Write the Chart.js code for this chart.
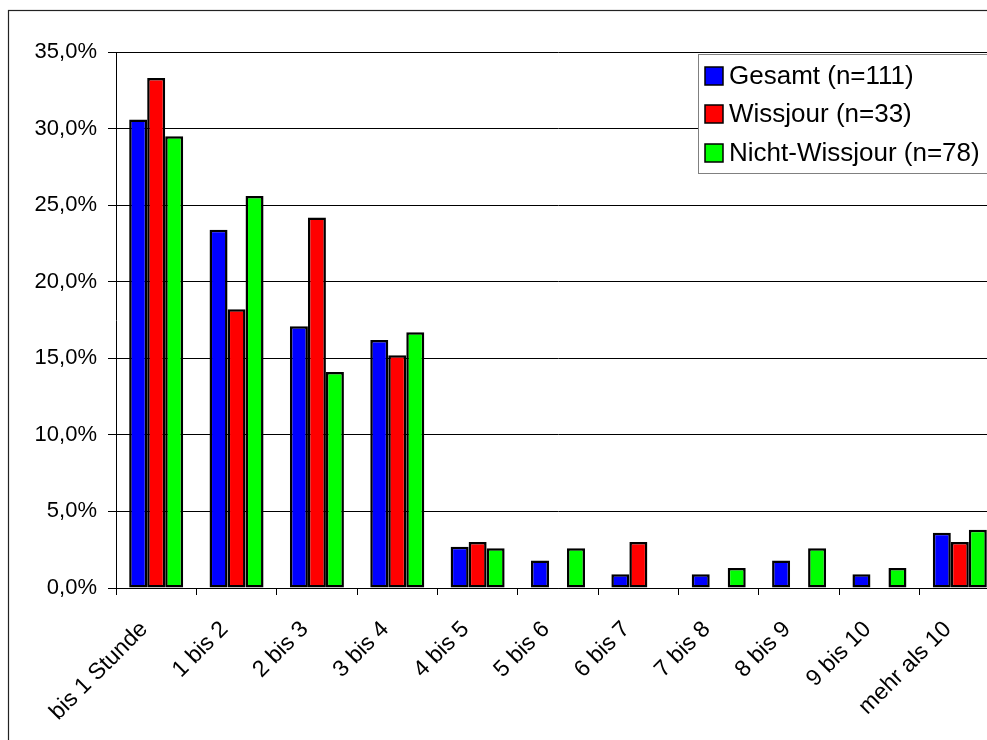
<!DOCTYPE html>
<html>
<head>
<meta charset="utf-8">
<script src="https://cdn.jsdelivr.net/npm/chart.js@4"></script>
<style>
  html, body { margin: 0; padding: 0; background: #fff; overflow: hidden; }
  #wrap { position: absolute; left: 0; top: 0; }
</style>
</head>
<body>
<div id="wrap"><canvas id="chart" width="1010" height="740"></canvas></div>
<script>
// Nutzungsdauer pro Tag, Anteile in Prozent
const categories = ['bis 1 Stunde', '1 bis 2', '2 bis 3', '3 bis 4', '4 bis 5', '5 bis 6',
  '6 bis 7', '7 bis 8', '8 bis 9', '9 bis 10', 'mehr als 10'];
const gesamt = [30.6, 23.4, 17.1, 16.2, 2.7, 1.8, 0.9, 0.9, 1.8, 0.9, 3.6];
const wissjour = [33.3, 18.2, 24.2, 15.2, 3.0, 0, 3.0, 0, 0, 0, 3.0];
const nichtWissjour = [29.5, 25.6, 14.1, 16.7, 2.6, 2.6, 0, 1.3, 2.6, 1.3, 3.8];
const seriesLabels = ['Gesamt (n=111)', 'Wissjour (n=33)', 'Nicht-Wissjour (n=78)'];
const seriesColors = ['#0000ff', '#ff0000', '#00ff00'];
const yTickLabels = ['0,0%', '5,0%', '10,0%', '15,0%', '20,0%', '25,0%', '30,0%', '35,0%'];

const FONT = '"Liberation Sans", Arial, sans-serif';
Chart.defaults.font.family = FONT;
Chart.defaults.color = '#000';

// outer frame of the chart object
const framePlugin = {
  id: 'frame',
  beforeDraw(chart) {
    const ctx = chart.ctx;
    ctx.save();
    ctx.fillStyle = '#fff';
    ctx.fillRect(0, 0, chart.width, chart.height);
    ctx.strokeStyle = '#222';
    ctx.lineWidth = 1.2;
    ctx.strokeRect(8.5, 10.5, chart.width + 20, chart.height + 20);
    ctx.restore();
  }
};

// boxed legend in the upper right corner
const boxLegend = {
  id: 'boxLegend',
  afterDraw(chart) {
    const ctx = chart.ctx;
    ctx.save();
    ctx.fillStyle = '#fff';
    ctx.fillRect(698, 54, 400, 119);
    ctx.strokeStyle = '#808080';
    ctx.lineWidth = 1;
    ctx.strokeRect(698.5, 54.5, 400, 119);
    ctx.font = '26px ' + FONT;
    ctx.textBaseline = 'middle';
    const rows = [76, 114, 153];
    chart.data.datasets.forEach((ds, i) => {
      const y = rows[i];
      ctx.fillStyle = ds.backgroundColor;
      ctx.fillRect(705, y - 9, 18, 18);
      ctx.strokeStyle = '#000';
      ctx.lineWidth = 1.5;
      ctx.strokeRect(705, y - 9, 18, 18);
      ctx.fillStyle = '#000';
      ctx.fillText(ds.label, 729, y + 1);
    });
    ctx.restore();
  }
};

const datasets = [gesamt, wissjour, nichtWissjour].map((values, i) => ({
  label: seriesLabels[i],
  data: values,
  backgroundColor: seriesColors[i],
  borderColor: '#000',
  borderWidth: c => (c.raw ? 2.5 : 0),
  borderSkipped: false,
  categoryPercentage: 0.672,
  barPercentage: 1.0,
}));

new Chart(document.getElementById('chart'), {
  type: 'bar',
  data: { labels: categories, datasets },
  options: {
    responsive: false,
    animation: false,
    layout: { padding: { left: 0, top: 52, right: 10, bottom: 0 } },
    plugins: { legend: { display: false }, tooltip: { enabled: false } },
    scales: {
      x: {
        offset: true,
        grid: { offset: true, drawOnChartArea: false, drawTicks: true, tickLength: 7, color: '#000', lineWidth: 1 },
        border: { color: '#000', width: 1 },
        ticks: {
          font: { size: 23 }, color: '#000', maxRotation: 45, minRotation: 45,
          padding: 21, labelOffset: -12, autoSkip: false,
        },
        afterFit(s) { s.height = 152; },
      },
      y: {
        min: 0,
        max: 35,
        ticks: {
          stepSize: 5,
          font: { size: 22 },
          color: '#000',
          padding: 11,
          callback: (v, i) => yTickLabels[i],
        },
        grid: { color: '#000', lineWidth: 1, tickLength: 8 },
        border: { color: '#000', width: 1 },
        afterFit(s) { s.width = 116; },
      },
    },
  },
  plugins: [framePlugin, boxLegend],
});
</script>
</body>
</html>
